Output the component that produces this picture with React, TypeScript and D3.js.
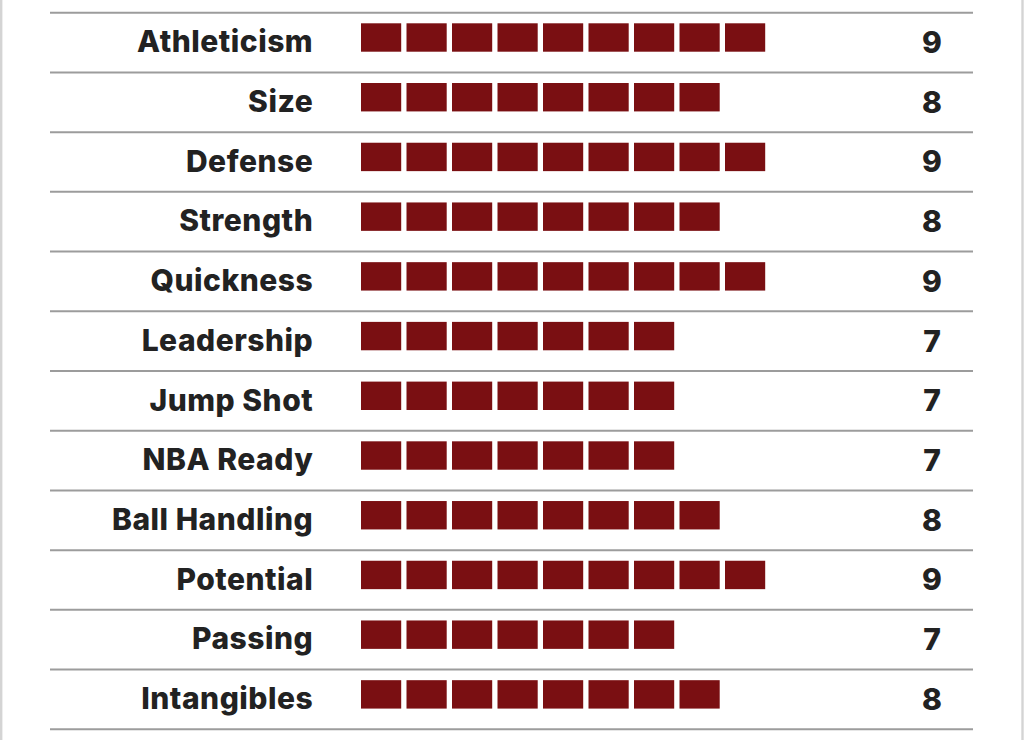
import React from "react";
import * as d3 from "d3";

const categories = [
  "Athleticism",
  "Size",
  "Defense",
  "Strength",
  "Quickness",
  "Leadership",
  "Jump Shot",
  "NBA Ready",
  "Ball Handling",
  "Potential",
  "Passing",
  "Intangibles",
];
const values = [9, 8, 9, 8, 9, 7, 7, 7, 8, 9, 7, 8];

const W = 1024;
const H = 740;

export default function App() {
  const y = d3.scaleBand<string>().domain(categories).range([12.7, 729.3]).paddingInner(0).paddingOuter(0);
  const x = d3.scaleLinear().domain([0, 9]).range([361, 770.5]);
  const sqW = 40.2;
  const sqH = 28.4;
  const lineYs = [...categories.map((c) => y(c) as number), 729.3];
  const font = "Inter, 'Open Sans', sans-serif";

  return (
    <svg width={W} height={H} style={{ position: "absolute", left: 0, top: 0, background: "#fff" }}>
      <line x1={1.2} x2={1.2} y1={0} y2={H} stroke="#d4d4d4" strokeWidth={2.4} />
      <line x1={1022.5} x2={1022.5} y1={0} y2={H} stroke="#d4d4d4" strokeWidth={2.4} />
      {lineYs.map((ly, i) => (
        <line key={"l" + i} x1={50} x2={973} y1={ly} y2={ly} stroke="#9c9c9c" strokeWidth={2} />
      ))}
      {categories.map((c, i) => {
        const top = y(c) as number;
        return (
          <g key={c}>
            <text
              x={313.2}
              y={top + 39.6}
              textAnchor="end"
              fontFamily={font}
              fontWeight={800}
              fontSize={30}
              letterSpacing={0.5}
              fill="#222"
            >
              {c}
            </text>
            {d3.range(values[i]).map((k) => (
              <rect
                key={k}
                x={x(k)}
                y={top + 10.6}
                width={sqW}
                height={sqH}
                fill="#7a0f12"
              />
            ))}
            <text
              x={932}
              y={top + 40.3}
              textAnchor="middle"
              fontFamily={font}
              fontWeight={800}
              fontSize={30}
              fill="#222"
            >
              {values[i]}
            </text>
          </g>
        );
      })}
    </svg>
  );
}
